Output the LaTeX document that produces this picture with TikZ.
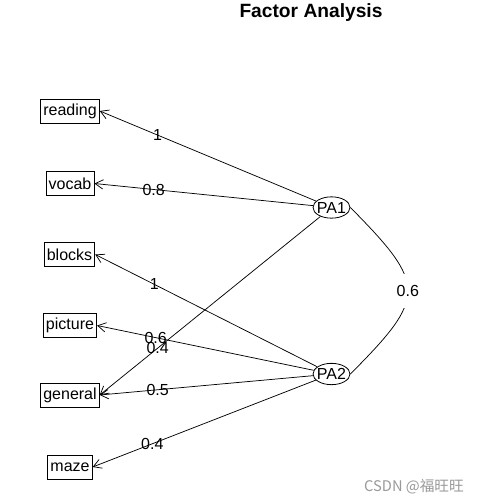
\documentclass[tikz,border=0pt]{standalone}
\usepackage{fontspec}
\setmainfont{Liberation Sans}
\newfontfamily\cjk{Noto Sans CJK SC}
\usetikzlibrary{shapes.geometric,arrows.meta,calc}
\tikzset{
  varbox/.style={draw, line width=0.6pt, inner xsep=2pt, inner ysep=0pt, minimum height=18pt, font=\fontsize{12}{14}\selectfont},
  factor/.style={draw, ellipse, line width=0.6pt, inner sep=0pt, minimum width=27.75pt, minimum height=16pt, font=\fontsize{12}{14}\selectfont},
  load/.style={line width=0.55pt, -{Straight Barb[length=6pt,width=7pt,line width=0.55pt]}},
  lbl/.style={inner sep=0pt, font=\fontsize{12}{14}\selectfont},
}
\begin{document}
\begin{tikzpicture}[x=0.75pt,y=-0.75pt]
\useasboundingbox (0,0) rectangle (479,503);
\node[font=\bfseries\fontsize{14.4}{16}\selectfont] (title) at (311,13) {Factor Analysis};

\node[varbox] (reading) at (70,111) {reading};
\node[varbox] (vocab) at (70,183.5) {vocab};
\node[varbox] (blocks) at (69.5,254.5) {blocks};
\node[varbox] (picture) at (70,325.5) {picture};
\node[varbox] (general) at (70,395) {general};
\node[varbox] (maze) at (70,467) {maze};

\node[factor] (PA1) at (331.5,207.5) {\makebox[0pt][c]{PA1}};
\node[factor] (PA2) at (331.5,374) {\makebox[0pt][c]{PA2}};

\draw[load] (PA1) -- (reading.east);
\draw[load] (PA1) -- (vocab.east);
\draw[load] (PA1) -- (general.east);
\draw[load] (PA2) -- (blocks.east);
\draw[load] (PA2) -- (picture.east);
\draw[load] (PA2) -- (general.east);
\draw[load] (PA2) -- (maze.east);

\node[lbl] (l1) at ($(PA1)!0.75!(reading.east)$) {1};
\node[lbl] (l2) at ($(PA1)!0.75!(vocab.east)$) {0.8};
\node[lbl] (l3) at ($(PA1)!0.75!(general.east)$) {0.4};
\node[lbl] (l4) at ($(PA2)!0.75!(blocks.east)$) {1};
\node[lbl] (l5) at ($(PA2)!0.75!(picture.east)$) {0.6};
\node[lbl] (l6) at ($(PA2)!0.75!(general.east)$) {0.5};
\node[lbl] (l7) at ($(PA2)!0.75!(maze.east)$) {0.4};

\draw[line width=0.55pt] (PA1.east) .. controls (427,285) and (427,297) .. (PA2.east)
  node[pos=0.5, fill=white, inner sep=0pt, minimum height=26pt, font=\fontsize{12}{14}\selectfont] (r) {0.6};

\node[text=black!40, font=\cjk\fontsize{11}{13}\selectfont] (wm) at (414,487) {CSDN @福旺旺};
\end{tikzpicture}
\end{document}
